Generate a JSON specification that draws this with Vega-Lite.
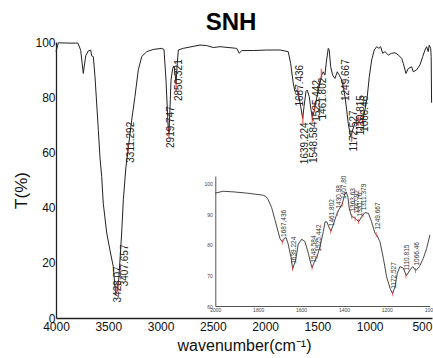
{
  "$schema": "https://vega.github.io/schema/vega-lite/v6.json",
  "width": 376,
  "height": 276,
  "autosize": "none",
  "padding": {"left": 56, "top": 42, "right": 1, "bottom": 40},
  "background": "white",
  "config": {"view": {"stroke": null}, "font": "Liberation Sans"},
  "title": {"text": "SNH", "fontSize": 24, "fontWeight": "bold", "font": "Liberation Sans", "color": "#000", "anchor": "middle", "frame": "group", "offset": -18, "baseline": "alphabetic", "dx": -13},
  "datasets": {
    "main": [
      {"wn": 4000, "T": 96.5}, {"wn": 3978, "T": 99.7}, {"wn": 3866, "T": 99.6}, {"wn": 3790, "T": 99.6},
      {"wn": 3764, "T": 97.0}, {"wn": 3739, "T": 88.6}, {"wn": 3716, "T": 95.0}, {"wn": 3691, "T": 96.8},
      {"wn": 3668, "T": 97.1}, {"wn": 3659, "T": 95.0}, {"wn": 3643, "T": 94.7}, {"wn": 3627, "T": 87.4},
      {"wn": 3595, "T": 68.0}, {"wn": 3579, "T": 58.0}, {"wn": 3563, "T": 51.2}, {"wn": 3548, "T": 41.6},
      {"wn": 3515, "T": 30.8}, {"wn": 3484, "T": 24.6}, {"wn": 3452, "T": 18.6}, {"wn": 3436, "T": 11.3},
      {"wn": 3428, "T": 9.0}, {"wn": 3418, "T": 9.5}, {"wn": 3407, "T": 12.0}, {"wn": 3400, "T": 14.0},
      {"wn": 3388, "T": 21.0}, {"wn": 3372, "T": 30.8}, {"wn": 3356, "T": 42.8}, {"wn": 3331, "T": 54.8},
      {"wn": 3309, "T": 61.5}, {"wn": 3276, "T": 71.7}, {"wn": 3245, "T": 80.2}, {"wn": 3213, "T": 89.9},
      {"wn": 3180, "T": 94.7}, {"wn": 3133, "T": 96.5}, {"wn": 3070, "T": 97.3}, {"wn": 2989, "T": 97.7},
      {"wn": 2967, "T": 97.3}, {"wn": 2948, "T": 86.2}, {"wn": 2926, "T": 68.1}, {"wn": 2919, "T": 66.9},
      {"wn": 2900, "T": 86.2}, {"wn": 2884, "T": 90.4}, {"wn": 2872, "T": 91.3}, {"wn": 2862, "T": 88.7},
      {"wn": 2852, "T": 85.0}, {"wn": 2840, "T": 92.3}, {"wn": 2830, "T": 97.1}, {"wn": 2783, "T": 97.7},
      {"wn": 2623, "T": 98.9}, {"wn": 2559, "T": 98.7}, {"wn": 2496, "T": 98.0}, {"wn": 2432, "T": 98.3},
      {"wn": 2272, "T": 97.7}, {"wn": 2247, "T": 95.9}, {"wn": 2224, "T": 96.9}, {"wn": 2113, "T": 96.9},
      {"wn": 1985, "T": 97.1}, {"wn": 1858, "T": 97.1}, {"wn": 1779, "T": 96.5}, {"wn": 1756, "T": 92.3},
      {"wn": 1731, "T": 85.1}, {"wn": 1715, "T": 82.1}, {"wn": 1698, "T": 82.6}, {"wn": 1683, "T": 81.4},
      {"wn": 1660, "T": 76.6}, {"wn": 1641, "T": 72.3}, {"wn": 1628, "T": 76.6}, {"wn": 1609, "T": 82.1},
      {"wn": 1597, "T": 82.6}, {"wn": 1578, "T": 80.2}, {"wn": 1561, "T": 75.4}, {"wn": 1549, "T": 72.7},
      {"wn": 1533, "T": 74.7}, {"wn": 1516, "T": 77.8}, {"wn": 1492, "T": 82.6}, {"wn": 1475, "T": 85.1},
      {"wn": 1459, "T": 88.0}, {"wn": 1444, "T": 89.2}, {"wn": 1428, "T": 88.0}, {"wn": 1412, "T": 93.5},
      {"wn": 1396, "T": 97.7}, {"wn": 1387, "T": 97.1}, {"wn": 1373, "T": 91.0}, {"wn": 1354, "T": 88.0},
      {"wn": 1332, "T": 86.8}, {"wn": 1310, "T": 89.2}, {"wn": 1291, "T": 88.0}, {"wn": 1268, "T": 86.2},
      {"wn": 1253, "T": 83.8}, {"wn": 1236, "T": 80.2}, {"wn": 1220, "T": 75.4}, {"wn": 1205, "T": 70.5},
      {"wn": 1182, "T": 65.7}, {"wn": 1163, "T": 68.1}, {"wn": 1141, "T": 70.5}, {"wn": 1119, "T": 71.7},
      {"wn": 1100, "T": 71.1}, {"wn": 1083, "T": 72.3}, {"wn": 1067, "T": 71.7}, {"wn": 1045, "T": 75.4},
      {"wn": 1023, "T": 80.2}, {"wn": 1004, "T": 87.4}, {"wn": 981, "T": 93.5}, {"wn": 956, "T": 97.1},
      {"wn": 933, "T": 98.3}, {"wn": 911, "T": 97.7}, {"wn": 895, "T": 98.3}, {"wn": 876, "T": 95.9},
      {"wn": 854, "T": 96.5}, {"wn": 822, "T": 95.3}, {"wn": 790, "T": 95.9}, {"wn": 758, "T": 96.1},
      {"wn": 727, "T": 95.3}, {"wn": 694, "T": 94.1}, {"wn": 679, "T": 92.3}, {"wn": 653, "T": 88.6},
      {"wn": 631, "T": 90.4}, {"wn": 599, "T": 91.0}, {"wn": 583, "T": 89.2}, {"wn": 551, "T": 89.9},
      {"wn": 519, "T": 91.7}, {"wn": 493, "T": 94.7}, {"wn": 471, "T": 97.1}, {"wn": 455, "T": 98.3},
      {"wn": 440, "T": 96.5}, {"wn": 430, "T": 98.9}, {"wn": 417, "T": 97.7}, {"wn": 412, "T": 94.7},
      {"wn": 408, "T": 78.0}
    ],
    "mainPeaks": [
      {"wn": 3428.07, "T": 10.0, "label": "3428.07"},
      {"wn": 3407.657, "T": 11.5, "label": "3407.657"},
      {"wn": 3311.292, "T": 61.5, "label": "3311.292"},
      {"wn": 2919.747, "T": 67.0, "label": "2919.747"},
      {"wn": 2850.321, "T": 84.0, "label": "2850.321"},
      {"wn": 1687.436, "T": 82.0, "label": "1687.436"},
      {"wn": 1639.224, "T": 72.3, "label": "1639.224"},
      {"wn": 1548.584, "T": 72.7, "label": "1548.584"},
      {"wn": 1525.442, "T": 76.5, "label": "1525.442"},
      {"wn": 1461.802, "T": 88.5, "label": "1461.802"},
      {"wn": 1249.667, "T": 84.0, "label": "1249.667"},
      {"wn": 1172.527, "T": 65.6, "label": "1172.527"},
      {"wn": 1110.815, "T": 71.3, "label": "1110.815"},
      {"wn": 1066.46, "T": 71.8, "label": "1066.46"}
    ],
    "inset": [
      {"wn": 2000, "T": 97.0}, {"wn": 1963, "T": 97.6}, {"wn": 1916, "T": 97.4}, {"wn": 1854, "T": 97.0},
      {"wn": 1776, "T": 96.3}, {"wn": 1764, "T": 95.9}, {"wn": 1753, "T": 94.8}, {"wn": 1737, "T": 92.2},
      {"wn": 1722, "T": 88.3}, {"wn": 1709, "T": 84.9}, {"wn": 1698, "T": 82.0}, {"wn": 1687, "T": 81.0},
      {"wn": 1678, "T": 82.2}, {"wn": 1670, "T": 82.4}, {"wn": 1660, "T": 80.3}, {"wn": 1647, "T": 76.0},
      {"wn": 1639, "T": 72.2}, {"wn": 1625, "T": 75.1}, {"wn": 1613, "T": 80.3}, {"wn": 1597, "T": 81.9},
      {"wn": 1582, "T": 81.1}, {"wn": 1566, "T": 77.3}, {"wn": 1555, "T": 74.0}, {"wn": 1548, "T": 72.6},
      {"wn": 1538, "T": 74.5}, {"wn": 1525, "T": 76.2}, {"wn": 1512, "T": 79.4}, {"wn": 1496, "T": 84.4},
      {"wn": 1488, "T": 87.6}, {"wn": 1480, "T": 87.6}, {"wn": 1468, "T": 85.5}, {"wn": 1461, "T": 84.5},
      {"wn": 1450, "T": 86.6}, {"wn": 1434, "T": 90.0}, {"wn": 1422, "T": 91.8}, {"wn": 1408, "T": 93.4},
      {"wn": 1397, "T": 96.4}, {"wn": 1389, "T": 97.4}, {"wn": 1381, "T": 95.5}, {"wn": 1375, "T": 91.8},
      {"wn": 1364, "T": 89.3}, {"wn": 1352, "T": 89.0}, {"wn": 1340, "T": 88.2}, {"wn": 1330, "T": 87.7},
      {"wn": 1317, "T": 89.3}, {"wn": 1302, "T": 90.6}, {"wn": 1286, "T": 90.4}, {"wn": 1271, "T": 87.6},
      {"wn": 1255, "T": 83.8}, {"wn": 1247, "T": 83.3}, {"wn": 1232, "T": 81.1}, {"wn": 1216, "T": 75.6},
      {"wn": 1201, "T": 69.6}, {"wn": 1185, "T": 65.8}, {"wn": 1173, "T": 64.0}, {"wn": 1162, "T": 66.3},
      {"wn": 1151, "T": 70.7}, {"wn": 1139, "T": 72.9}, {"wn": 1123, "T": 72.4}, {"wn": 1109, "T": 69.9},
      {"wn": 1092, "T": 71.8}, {"wn": 1079, "T": 72.9}, {"wn": 1065, "T": 71.6}, {"wn": 1048, "T": 72.9},
      {"wn": 1030, "T": 75.6}, {"wn": 1014, "T": 78.9}, {"wn": 999, "T": 83.3}
    ],
    "insetPeaks": [
      {"wn": 1687.436, "T": 81.0, "label": "1687.436"},
      {"wn": 1639.224, "T": 72.2, "label": "1639.224"},
      {"wn": 1548.584, "T": 72.6, "label": "1548.584"},
      {"wn": 1525.442, "T": 76.2, "label": "1525.442"},
      {"wn": 1461.802, "T": 84.5, "label": "1461.802"},
      {"wn": 1430.98, "T": 90.3, "label": "1430.98"},
      {"wn": 1407.8, "T": 93.4, "label": "1407.80"},
      {"wn": 1363.63, "T": 89.3, "label": "1363.63"},
      {"wn": 1347.92, "T": 88.6, "label": "1347.92"},
      {"wn": 1331.76, "T": 87.7, "label": "1331.76"},
      {"wn": 1311.379, "T": 89.7, "label": "1311.379"},
      {"wn": 1249.667, "T": 83.4, "label": "1249.667"},
      {"wn": 1172.527, "T": 64.0, "label": "1172.527"},
      {"wn": 1110.815, "T": 69.9, "label": "1110.815"},
      {"wn": 1066.46, "T": 71.6, "label": "1066.46"}
    ]
  },
  "layer": [
    {
      "layer": [
        {
          "data": {"name": "main"},
          "mark": {"type": "line", "color": "#222", "strokeWidth": 1},
          "encoding": {
            "x": {"field": "wn", "type": "quantitative",
                  "scale": {"domain": [404, 4000], "reverse": true, "nice": false, "zero": false},
                  "axis": {"orient": "bottom", "values": [4000, 3500, 3000, 2500, 2000, 1500, 1000, 500], "format": "d",
                           "title": "wavenumber(cm⁻¹)", "titleFontSize": 16, "titleFontWeight": "normal", "titleColor": "#111",
                           "titleY": 32, "titleBaseline": "alphabetic",
                           "labelFontSize": 12, "labelColor": "#111", "labelPadding": 3, "labelFlush": false, "labelBound": false, "labelOverlap": false,
                           "ticks": false, "grid": false, "domainColor": "#222", "domainWidth": 1.3}},
            "y": {"field": "T", "type": "quantitative",
                  "scale": {"domain": [0, 100], "nice": false, "zero": false},
                  "axis": {"orient": "left", "values": [0, 20, 40, 60, 80, 100],
                           "title": "T(%)", "titleFontSize": 17, "titleFontWeight": "normal", "titleColor": "#111",
                           "titleX": -35, "titleY": 148, "titleBaseline": "middle", "titleAlign": "center", "titleAngle": 270,
                           "labelFontSize": 12, "labelColor": "#111", "labelPadding": 1, "labelFlush": false, "labelBound": false, "labelOverlap": false,
                           "ticks": false, "grid": false, "domainColor": "#222", "domainWidth": 1.3}}
          }
        },
        {
          "mark": {"type": "rule", "color": "#f4a4a4", "strokeWidth": 1.5},
          "encoding": {"y": {"datum": 100}}
        },
        {
          "data": {"name": "mainPeaks"},
          "mark": {"type": "tick", "orient": "vertical", "color": "#e8372f", "size": 10, "thickness": 1.5},
          "encoding": {"x": {"field": "wn", "type": "quantitative"}, "y": {"field": "T", "type": "quantitative"}}
        },
        {
          "data": {"name": "mainPeaks"},
          "transform": [{"filter": "indexof(['1639.224','1548.584','1461.802','3407.657'], datum.label) < 0"}],
          "mark": {"type": "text", "angle": 270, "align": "center", "baseline": "middle", "dx": 6, "dy": 2.5, "fontSize": 10, "font": "Liberation Sans", "color": "#222"},
          "encoding": {"x": {"field": "wn", "type": "quantitative"}, "y": {"field": "T", "type": "quantitative"}, "text": {"field": "label"}}
        },
        {
          "data": {"name": "mainPeaks"},
          "transform": [{"filter": "indexof(['1639.224','1548.584','1461.802'], datum.label) >= 0"}],
          "mark": {"type": "text", "angle": 270, "align": "right", "baseline": "middle", "dx": -4, "dy": 2, "fontSize": 10, "font": "Liberation Sans", "color": "#222"},
          "encoding": {"x": {"field": "wn", "type": "quantitative"}, "y": {"field": "T", "type": "quantitative"}, "text": {"field": "label"}}
        },
        {
          "data": {"name": "mainPeaks"},
          "transform": [{"filter": "datum.label == '3407.657'"}],
          "mark": {"type": "text", "angle": 270, "align": "left", "baseline": "middle", "dx": 0, "dy": 7, "fontSize": 10, "font": "Liberation Sans", "color": "#222"},
          "encoding": {"x": {"field": "wn", "type": "quantitative"}, "y": {"field": "T", "type": "quantitative"}, "text": {"field": "label"}}
        }
      ]
    },
    {
      "layer": [
        {
          "data": {"name": "inset"},
          "mark": {"type": "line", "color": "#333", "strokeWidth": 0.9},
          "encoding": {
            "x": {"field": "wn", "type": "quantitative",
                  "scale": {"domain": [1000, 2000], "range": [373.7, 159.3], "nice": false, "zero": false},
                  "axis": {"orient": "bottom", "offset": -12, "values": [2000, 1800, 1600, 1400, 1200, 1000], "format": "d",
                           "title": null, "labelFontSize": 5, "labelColor": "#444", "labelPadding": 1, "labelFlush": false, "labelBound": false, "labelOverlap": false,
                           "ticks": false, "grid": false, "domainColor": "#555", "domainWidth": 1}},
            "y": {"field": "T", "type": "quantitative",
                  "scale": {"domain": [60, 102.6], "range": [264, 134], "nice": false, "zero": false},
                  "axis": {"orient": "left", "offset": -159.3, "values": [60, 65, 70, 75, 80, 85, 90, 95, 100],
                           "title": null, "labelFontSize": 5, "labelColor": "#444", "labelPadding": 3, "labelFlush": false, "labelBound": false, "labelOverlap": false,
                           "ticks": false, "grid": false, "domainColor": "#555", "domainWidth": 1}}
          }
        },
        {
          "mark": {"type": "rule", "color": "#f4a4a4", "strokeWidth": 1.5},
          "encoding": {"x": {"datum": 2000}, "x2": {"datum": 985}, "y": {"datum": 100}}
        },
        {
          "data": {"name": "insetPeaks"},
          "mark": {"type": "tick", "orient": "vertical", "color": "#e8372f", "size": 5, "thickness": 1},
          "encoding": {"x": {"field": "wn", "type": "quantitative"}, "y": {"field": "T", "type": "quantitative"}}
        },
        {
          "data": {"name": "insetPeaks"},
          "mark": {"type": "text", "angle": 270, "align": "left", "baseline": "middle", "dx": 5, "dy": 1.5, "fontSize": 6.5, "font": "Liberation Sans", "color": "#333"},
          "encoding": {"x": {"field": "wn", "type": "quantitative"}, "y": {"field": "T", "type": "quantitative"}, "text": {"field": "label"}}
        }
      ]
    }
  ],
  "resolve": {"scale": {"x": "independent", "y": "independent"}, "axis": {"x": "independent", "y": "independent"}}
}
